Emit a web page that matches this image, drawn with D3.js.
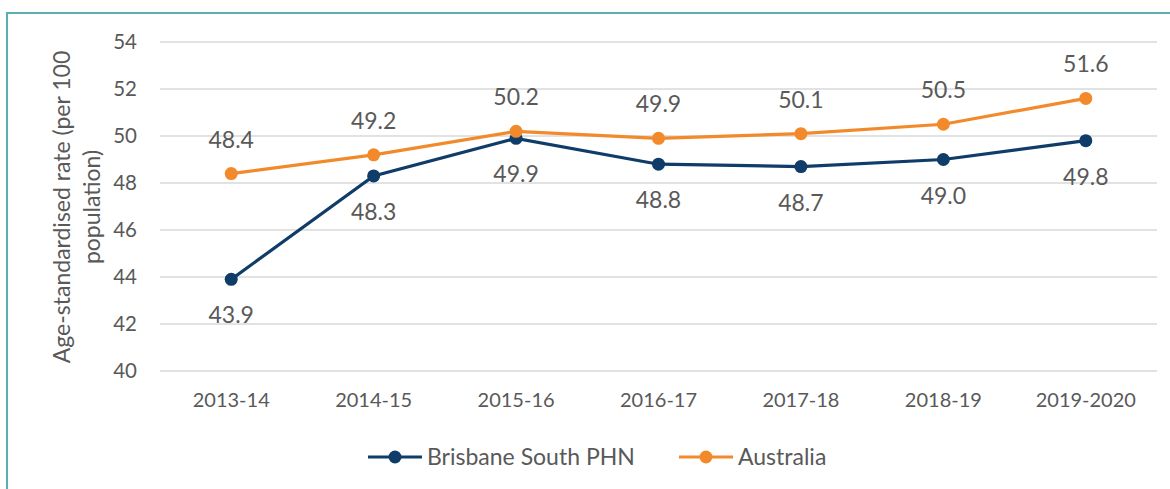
<!DOCTYPE html>
<html>
<head>
<meta charset="utf-8">
<script src="https://cdn.jsdelivr.net/npm/d3@7"></script>
<style>
  body { margin: 0; background: #fff; }
  text { font-family: Lato, "Open Sans", sans-serif; fill: #595959; }
</style>
</head>
<body>
<div id="vis"></div>
<script>
const years = ["2013-14", "2014-15", "2015-16", "2016-17", "2017-18", "2018-19", "2019-2020"];
const brisbane = [43.9, 48.3, 49.9, 48.8, 48.7, 49.0, 49.8];
const australia = [48.4, 49.2, 50.2, 49.9, 50.1, 50.5, 51.6];
const yTicks = [40, 42, 44, 46, 48, 50, 52, 54];

const w = 1170, h = 489;
const svg = d3.select("#vis").append("svg").attr("width", w).attr("height", h);

// frame
svg.append("rect")
  .attr("x", 7).attr("y", 13)
  .attr("width", w + 20).attr("height", h + 20)
  .attr("fill", "none").attr("stroke", "#5aafb0").attr("stroke-width", 2);

const x = d3.scaleBand().domain(years).range([160, 1157]);
const y = d3.scaleLinear().domain([40, 54]).range([371, 42]);

// gridlines
svg.append("g").selectAll("line").data(yTicks).join("line")
  .attr("x1", 160).attr("x2", 1157)
  .attr("y1", d => y(d)).attr("y2", d => y(d))
  .attr("stroke", "#d9d9d9").attr("stroke-width", 1.3);

const yAxis = svg.append("g")
  .attr("transform", "translate(137,0)")
  .call(d3.axisLeft(y).tickValues(yTicks).tickSize(0).tickPadding(0));
yAxis.select(".domain").remove();
yAxis.selectAll("text").style("font-size", "20.5px").attr("dy", "0.34em");

const xAxis = svg.append("g")
  .attr("transform", "translate(0,371)")
  .call(d3.axisBottom(x).tickSize(0).tickPadding(22));
xAxis.select(".domain").remove();
xAxis.selectAll("text").style("font-size", "20px");

// y title
const title = svg.append("text")
  .attr("transform", "translate(70,207) rotate(-90)")
  .attr("text-anchor", "middle")
  .style("font-size", "23px");
title.append("tspan").attr("x", 0).attr("dy", 0).text("Age-standardised rate (per 100");
title.append("tspan").attr("x", 0).attr("dy", 30).text("population)");

const cx = d => x(d) + x.bandwidth() / 2;
const shape = d3.line().x((d, i) => cx(years[i])).y(d => y(d));

const series = [
  { name: "Brisbane South PHN", values: brisbane, color: "#0f3c68", labelDy: 36 },
  { name: "Australia", values: australia, color: "#f28a2b", labelDy: -34 }
];

series.forEach(s => {
  const g = svg.append("g");
  g.append("path").attr("d", shape(s.values))
    .attr("fill", "none").attr("stroke", s.color).attr("stroke-width", 3.2);
  g.selectAll("circle").data(s.values).join("circle")
    .attr("cx", (d, i) => cx(years[i])).attr("cy", d => y(d))
    .attr("r", 6.5).attr("fill", s.color);
  g.selectAll("text").data(s.values).join("text")
    .attr("x", (d, i) => cx(years[i])).attr("y", d => y(d) + s.labelDy)
    .attr("dy", "0.35em").attr("text-anchor", "middle")
    .style("font-size", "23px")
    .text(d => d.toFixed(1));
});

// legend
const legendPos = [368, 679];
series.forEach((s, i) => {
  const g = svg.append("g").attr("transform", `translate(${legendPos[i]},457)`);
  g.append("line").attr("x1", 0).attr("x2", 54)
    .attr("stroke", s.color).attr("stroke-width", 3.2);
  g.append("circle").attr("cx", 27).attr("r", 6.5).attr("fill", s.color);
  g.append("text").attr("x", 59).attr("dy", "0.35em")
    .style("font-size", "23px").text(s.name);
});
</script>
</body>
</html>
